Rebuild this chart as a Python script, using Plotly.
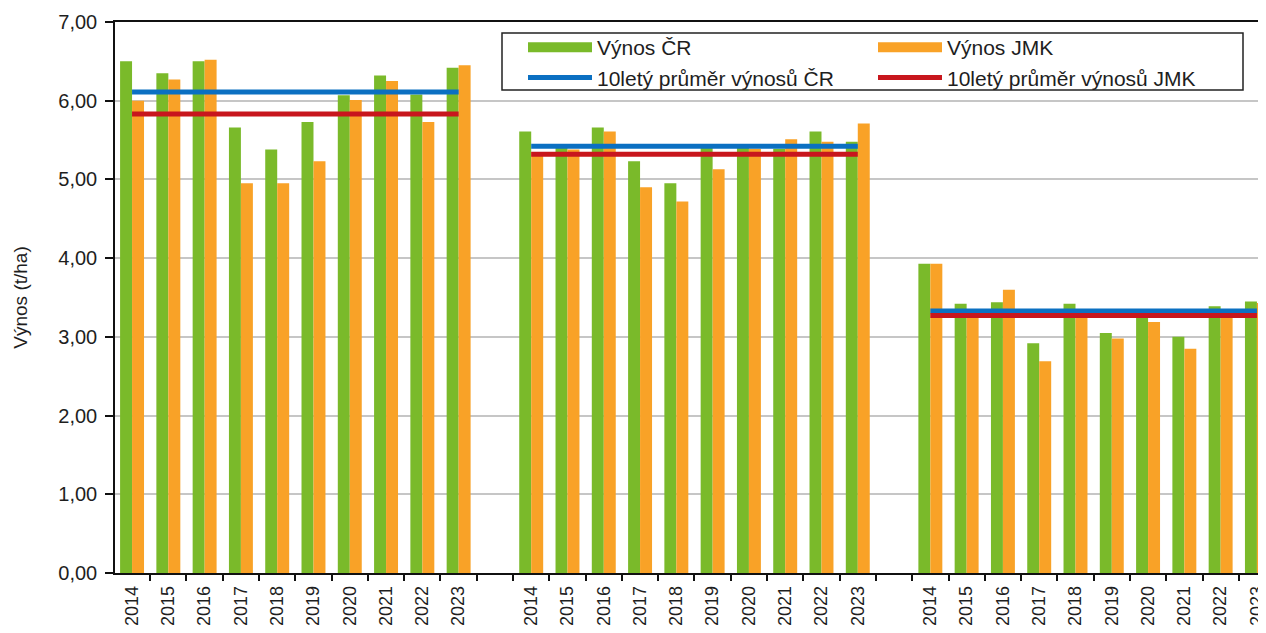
import plotly.graph_objects as go

years = ["2014", "2015", "2016", "2017", "2018", "2019", "2020", "2021", "2022", "2023"]

# Výnos ČR (green) per group
cr_g1 = [6.50, 6.35, 6.50, 5.66, 5.38, 5.73, 6.07, 6.32, 6.08, 6.42]
cr_g2 = [5.61, 5.40, 5.66, 5.23, 4.95, 5.40, 5.40, 5.39, 5.61, 5.48]
cr_g3 = [3.93, 3.42, 3.44, 2.92, 3.42, 3.05, 3.24, 3.00, 3.39, 3.45]
# Výnos JMK (orange) per group
jmk_g1 = [6.00, 6.27, 6.52, 4.95, 4.95, 5.23, 6.01, 6.25, 5.73, 6.45]
jmk_g2 = [5.35, 5.38, 5.61, 4.90, 4.72, 5.13, 5.39, 5.51, 5.48, 5.71]
jmk_g3 = [3.93, 3.27, 3.60, 2.69, 3.27, 2.98, 3.19, 2.85, 3.30, 3.43]
# 10-year averages per group
avg_cr = [6.11, 5.42, 3.33]
avg_jmk = [5.83, 5.32, 3.27]

cr_groups = [cr_g1, cr_g2, cr_g3]
jmk_groups = [jmk_g1, jmk_g2, jmk_g3]

GREEN = "#7aba2a"
ORANGE = "#f9a227"
BLUE = "#0b70c2"
RED = "#c8161d"
FONT = "Liberation Sans, Arial, sans-serif"
TXT = "#1e1e1e"

n = len(years)
step = n + 1  # one empty category between groups

xs, ycr, yjmk, ticktext = [], [], [], []
for g in range(len(cr_groups)):
    for i in range(n):
        xs.append(g * step + i)
        ycr.append(cr_groups[g][i])
        yjmk.append(jmk_groups[g][i])
        ticktext.append(years[i])

lx_cr, ly_cr, lx_jmk, ly_jmk = [], [], [], []
for g in range(len(avg_cr)):
    x0, x1 = g * step, g * step + n - 1
    lx_cr += [x0, x1, None]
    ly_cr += [avg_cr[g], avg_cr[g], None]
    lx_jmk += [x0, x1, None]
    ly_jmk += [avg_jmk[g], avg_jmk[g], None]

fig = go.Figure()
fig.add_trace(go.Bar(x=xs, y=ycr, name="Výnos ČR", marker=dict(color=GREEN, line_width=0),
                     showlegend=False))
fig.add_trace(go.Bar(x=xs, y=yjmk, name="Výnos JMK", marker=dict(color=ORANGE, line_width=0),
                     showlegend=False))
fig.add_trace(go.Scatter(x=lx_cr, y=ly_cr, mode="lines", name="10letý průměr výnosů ČR",
                         line=dict(color=BLUE, width=5), showlegend=False))
fig.add_trace(go.Scatter(x=lx_jmk, y=ly_jmk, mode="lines", name="10letý průměr výnosů JMK",
                         line=dict(color=RED, width=5), showlegend=False))

# legend entries (swatches)
fig.add_trace(go.Scatter(x=[None], y=[None], mode="lines", name="Výnos ČR",
                         line=dict(color=GREEN, width=12), legend="legend"))
fig.add_trace(go.Scatter(x=[None], y=[None], mode="lines", name="10letý průměr výnosů ČR",
                         line=dict(color=BLUE, width=5), legend="legend"))
fig.add_trace(go.Scatter(x=[None], y=[None], mode="lines", name="Výnos JMK",
                         line=dict(color=ORANGE, width=12), legend="legend2"))
fig.add_trace(go.Scatter(x=[None], y=[None], mode="lines", name="10letý průměr výnosů JMK",
                         line=dict(color=RED, width=5), legend="legend2"))

# page has an 8px body margin; figure coordinates below are page coordinates minus 8
OFF = 8
W, H = 1266 - OFF, 633 - 2 * OFF
L, T = 115 - OFF, 22 - OFF
R = 0
PH = 551
B = H - T - PH
pw = W - L - R

def px_x(p):
    return (p - OFF - L) / pw

def px_y(p):
    return (T + PH - (p - OFF)) / PH

legend_common = dict(bgcolor="rgba(0,0,0,0)", borderwidth=0, orientation="v",
                     font=dict(family=FONT, size=21, color=TXT), itemwidth=64,
                     xanchor="left", yanchor="top", tracegroupgap=0)

fig.update_layout(
    width=W, height=H,
    margin=dict(l=L, r=R, t=T, b=B, autoexpand=False),
    paper_bgcolor="white", plot_bgcolor="white",
    separators=", ",
    barmode="group", bargap=0.34, bargroupgap=0,
    font=dict(family=FONT, size=18, color=TXT),
    legend=dict(x=px_x(523), y=px_y(27), **legend_common),
    legend2=dict(x=px_x(873), y=px_y(27), **legend_common),
    shapes=[dict(type="rect", xref="paper", yref="paper",
                 x0=px_x(502), x1=px_x(1243), y0=px_y(90), y1=px_y(33),
                 line=dict(color="#222222", width=1.5), fillcolor="rgba(0,0,0,0)", layer="above")],
)

fig.update_xaxes(
    range=[-0.47, 31.25],
    tickmode="array", tickvals=xs, ticktext=ticktext,
    tickangle=-90, ticks="", showgrid=False,
    showline=True, linecolor="#111111", linewidth=1.5, mirror=True,
    tickfont=dict(family=FONT, size=18, color=TXT),
    ticklabelstandoff=4, ticklabeloverflow="allow",
    minor=dict(tickmode="linear", tick0=0.5, dtick=1, ticks="outside", ticklen=6,
               tickcolor="#111111", tickwidth=1.5, showgrid=False),
    zeroline=False,
)
fig.update_yaxes(
    range=[0, 7], dtick=1, tickformat=".2f",
    showgrid=True, gridcolor="#c6c6c6", gridwidth=1.5,
    showline=True, linecolor="#111111", linewidth=1.5,
    ticks="outside", ticklen=8, tickcolor="#111111", tickwidth=1.5,
    tickfont=dict(family=FONT, size=20, color=TXT),
    ticklabelstandoff=4,
    title=dict(text="Výnos (t/ha)", font=dict(family=FONT, size=19, color=TXT), standoff=26),
    zeroline=False,
)

fig.write_html("out.html")
